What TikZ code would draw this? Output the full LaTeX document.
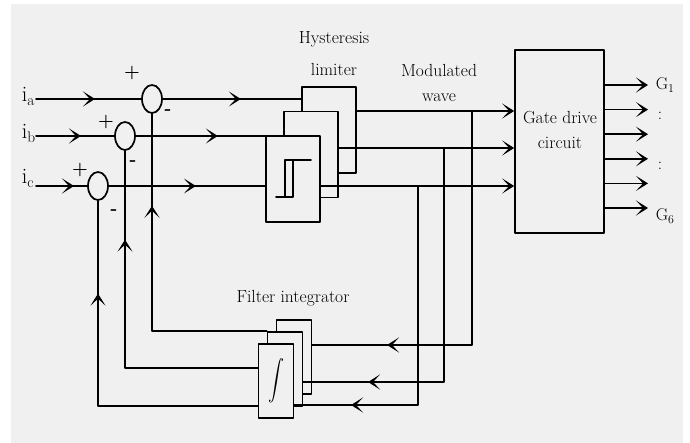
\documentclass[tikz,border=0pt]{standalone}
\usepackage{fontspec}
\usepackage{graphicx}
\usetikzlibrary{arrows.meta}
\usetikzlibrary{shapes.geometric}
\usetikzlibrary{decorations.markings}
\definecolor{bggray}{HTML}{F0F0F0}

\begin{document}
\begin{tikzpicture}[x=1pt,y=-1pt,line cap=round,line join=round,line width=1.7pt,
  >={Stealth[length=12pt,width=15pt,inset=7pt]},
  sumnode/.style={draw,ellipse,minimum width=20pt,minimum height=28pt,inner sep=0pt},
  hysbox/.style={draw,fill=bggray,minimum width=54pt,minimum height=86pt,inner sep=0pt},
  filbox/.style={draw,fill=bggray,minimum width=35pt,minimum height=74pt,inner sep=0pt},
  lbl/.style={font=\fontsize{17.5}{25}\selectfont,align=center,inner sep=0pt},
  sgn/.style={font=\fontsize{18}{18}\selectfont\bfseries,inner sep=0pt},
  inlbl/.style={font=\fontsize{22}{22}\selectfont,inner sep=0pt,anchor=base west},
  glbl/.style={font=\fontsize{17}{17}\selectfont,inner sep=0pt,anchor=base west},
  midarrow/.style={postaction={decorate},decoration={markings,mark=at position #1 with {\arrow{>}}}}]
\useasboundingbox (0,0) rectangle (690,443);
\fill[white] (0,0) rectangle (690,443);
\fill[bggray] (11,4) rectangle (683,443);

% summing points
\node[sumnode] (sumA) at (152,99) {};
\node[sumnode] (sumB) at (125,136) {};
\node[sumnode] (sumC) at (98,186) {};
\node[sgn] (pA) at (132,73) {+};
\node[sgn] (mA) at (168,112) {-};
\node[sgn] (pB) at (106,122) {+};
\node[sgn] (mB) at (133,163) {-};
\node[sgn] (pC) at (80,170) {+};
\node[sgn] (mC) at (114,212) {-};

% input currents
\coordinate (inA) at (36,99);
\coordinate (inB) at (36,136);
\coordinate (inC) at (36,186);
\node[inlbl] (labA) at (21,102) {i\textsubscript{a}};
\node[inlbl] (labB) at (21,139) {i\textsubscript{b}};
\node[inlbl] (labC) at (21,184) {i\textsubscript{c}};

% hysteresis limiters
\node[hysbox] (hysA) at (329,130) {};
\node[hysbox] (hysB) at (311,154.5) {};
\node[hysbox] (hysC) at (293,179) {};
\draw ([shift={(-17,18)}]hysC.center) -- ++(17,0) -- ++(0,-37);
\draw ([shift={(18,-19)}]hysC.center) -- ++(-26,0) -- ++(0,37);
\node[lbl,font=\fontsize{17.5}{32}\selectfont] (hyslbl) at (334,54) {Hysteresis\\limiter};

% gate drive
\node[draw,minimum width=89pt,minimum height=183pt,inner sep=0pt] (gate) at (559.5,141.5) {};
\node[lbl] (gatelbl) at (560,130) {Gate drive\\circuit};
\node[lbl] (modlbl) at (439,83) {Modulated\\wave};

% filter integrators
\node[filbox] (filA) at (294,357) {};
\node[filbox] (filB) at (285,369) {};
\node[filbox] (filC) at (276,381) {\scalebox{1.6}[2]{$\displaystyle\int$}};
\node[lbl] (fillbl) at (293,298) {Filter integrator};

% forward paths
\draw[midarrow=59pt] (inA) -- (sumA.west);
\draw[midarrow=45pt] (inB) -- (sumB.west);
\draw[midarrow=38pt] (inC) -- (sumC.west);
\draw[midarrow=78pt] (sumA.east) -- (hysA.west |- sumA.east);
\draw[midarrow=82pt] (sumB.east) -- (hysB.west |- sumB.east);
\draw[midarrow=87pt] (sumC.east) -- (hysC.west |- sumC.east);

\coordinate (tapA) at (472,111);
\coordinate (tapB) at (444,148);
\coordinate (tapC) at (418,186);
\draw[->] (hysA.east |- tapA) -- (gate.west |- tapA);
\draw[->] (hysB.east |- tapB) -- (gate.west |- tapB);
\draw[->] (hysC.east |- tapC) -- (gate.west |- tapC);

% feedback
\draw[midarrow=319pt] (tapA) |- (filA.east |- 0,345);
\draw[midarrow=310pt] (tapB) |- (filB.east |- 0,382);
\draw[midarrow=286pt] (tapC) |- (filC.east |- 0,405);
\draw[midarrow=240pt] (filB.north west) -| (sumA.south);
\draw[midarrow=261pt] (filC.west |- 0,368) -| (sumB.south);
\draw[midarrow=272pt] (filC.west |- 0,406) -| (sumC.south);

% gate signals
\foreach \k in {0,...,5}{
  \coordinate (g\k) at (648,{85+24.6*\k});
  \draw[->] (gate.east |- g\k) -- (g\k);
}
\node[glbl] (G1) at (655,90) {G\textsubscript{1}};
\node[glbl] (dotsA) at (657,120) {:};
\node[glbl] (dotsB) at (657,170) {:};
\node[glbl] (G6) at (655,221) {G\textsubscript{6}};
\end{tikzpicture}
\end{document}
